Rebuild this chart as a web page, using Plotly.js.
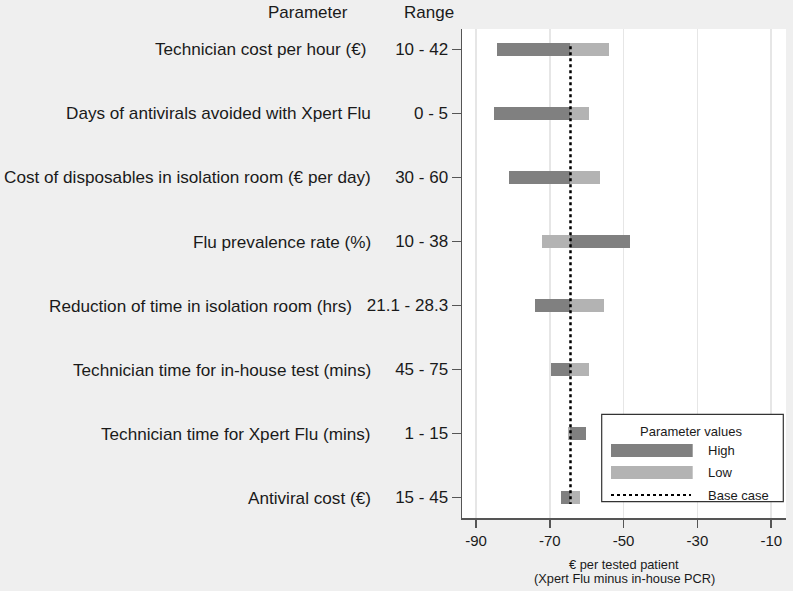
<!DOCTYPE html>
<html>
<head>
<meta charset="utf-8">
<script src="https://cdn.plot.ly/plotly-3.0.1.min.js"></script>
<style>html,body{margin:0;padding:0;background:#efefef;}</style>
</head>
<body>
<div id="chart" style="width:793px;height:591px;"></div>
<script>
// ---- data ----
const parameters = [
  "Technician cost per hour (€)",
  "Days of antivirals avoided with Xpert Flu",
  "Cost of disposables in isolation room (€ per day)",
  "Flu prevalence rate (%)",
  "Reduction of time in isolation room (hrs)",
  "Technician time for in-house test (mins)",
  "Technician time for Xpert Flu (mins)",
  "Antiviral cost (€)"
];
const ranges = ["10 - 42", "0 - 5", "30 - 60", "10 - 38", "21.1 - 28.3", "45 - 75", "1 - 15", "15 - 45"];
const highValues = [-84.4, -85.0, -81.2, -48.2, -73.9, -69.7, -60.2, -66.9];
const lowValues  = [-54.0, -59.5, -56.3, -72.2, -55.2, -59.3, -65.2, -61.8];
const baseCase = -64.4;
const xTicks = [-90, -70, -50, -30, -10];

// ---- layout helpers ----
const rows = parameters.map((_, i) => i + 1);
const FONT = "Liberation Sans, Arial, sans-serif";
const DARK = "#808080", LIGHT = "#b3b3b3";
// right edge (pixels) of each parameter name
const nameRight = [368, 372, 372, 372, 353, 372, 372, 372];

const traces = [
  {
    type: "bar", orientation: "h", y: rows,
    base: rows.map(() => baseCase),
    x: highValues.map(v => v - baseCase),
    width: 0.2, marker: {color: DARK, line: {width: 0}},
    showlegend: false, hoverinfo: "skip"
  },
  {
    type: "bar", orientation: "h", y: rows,
    base: rows.map(() => baseCase),
    x: lowValues.map(v => v - baseCase),
    width: 0.2, marker: {color: LIGHT, line: {width: 0}},
    showlegend: false, hoverinfo: "skip"
  },
  {
    type: "scatter", mode: "lines",
    x: [baseCase, baseCase], y: [0.95, rows.length + 0.1],
    line: {color: "#000", width: 2.5, dash: "dot"},
    showlegend: false, hoverinfo: "skip"
  }
];

// paper coordinate helpers (plot area: x 462..786, y 29..518)
const L = 462, R = 786, T = 29, B = 518;
const px = v => (v - L) / (R - L);
const py = v => (B - v) / (B - T);

const annotations = [];
parameters.forEach((p, i) => {
  annotations.push({
    xref: "paper", yref: "y", x: px(nameRight[i]), y: rows[i], xanchor: "right", yanchor: "middle",
    text: p, showarrow: false, borderpad: 0, font: {family: FONT, size: 17.15, color: "#1a1a1a"}
  });
});
annotations.push(
  {xref: "paper", yref: "paper", x: px(308), y: py(12), xanchor: "center", yanchor: "middle",
   text: "Parameter", showarrow: false, font: {family: FONT, size: 17, color: "#1a1a1a"}},
  {xref: "paper", yref: "paper", x: px(456), y: py(12), xanchor: "right", yanchor: "middle",
   text: "Range", showarrow: false, font: {family: FONT, size: 17, color: "#1a1a1a"}},
  {xref: "paper", yref: "paper", x: 0.5, y: py(564.5), xanchor: "center", yanchor: "middle",
   text: "€ per tested patient", showarrow: false, font: {family: FONT, size: 12.8, color: "#1a1a1a"}},
  {xref: "paper", yref: "paper", x: 0.5, y: py(578.5), xanchor: "center", yanchor: "middle",
   text: "(Xpert Flu minus in-house PCR)", showarrow: false, font: {family: FONT, size: 12.8, color: "#1a1a1a"}},
  // legend texts
  {xref: "paper", yref: "paper", x: px(690.5), y: py(431), xanchor: "center", yanchor: "middle",
   text: "Parameter values", showarrow: false, font: {family: FONT, size: 13, color: "#1a1a1a"}},
  {xref: "paper", yref: "paper", x: px(706), y: py(450.5), xanchor: "left", yanchor: "middle",
   text: "High", showarrow: false, font: {family: FONT, size: 13, color: "#1a1a1a"}},
  {xref: "paper", yref: "paper", x: px(706), y: py(472.5), xanchor: "left", yanchor: "middle",
   text: "Low", showarrow: false, font: {family: FONT, size: 13, color: "#1a1a1a"}},
  {xref: "paper", yref: "paper", x: px(706), y: py(495), xanchor: "left", yanchor: "middle",
   text: "Base case", showarrow: false, font: {family: FONT, size: 13, color: "#1a1a1a"}}
);

const shapes = [
  {type: "rect", xref: "paper", yref: "paper", x0: px(601.7), x1: px(783.3), y0: py(501.7), y1: py(414.3),
   fillcolor: "#ffffff", line: {color: "#333333", width: 1.2}, layer: "above"},
  {type: "rect", xref: "paper", yref: "paper", x0: px(611), x1: px(692.7), y0: py(457), y1: py(444),
   fillcolor: DARK, line: {width: 0}, layer: "above"},
  {type: "rect", xref: "paper", yref: "paper", x0: px(611), x1: px(692.7), y0: py(479), y1: py(466),
   fillcolor: LIGHT, line: {width: 0}, layer: "above"},
  {type: "line", xref: "paper", yref: "paper", x0: px(611), x1: px(691), y0: py(495), y1: py(495),
   line: {color: "#000", width: 2, dash: "dot"}, layer: "above"}
];

const layout = {
  width: 793, height: 591,
  margin: {l: L, r: 793 - R, t: T, b: 591 - B, pad: 0},
  paper_bgcolor: "#efefef", plot_bgcolor: "#ffffff",
  barmode: "overlay", bargap: 0,
  showlegend: false,
  font: {family: FONT, color: "#1a1a1a"},
  xaxis: {
    range: [-93.8, -6.0], tickvals: xTicks, ticktext: xTicks.map(String),
    showgrid: true, gridcolor: "#e6e6e6", gridwidth: 1.5, zeroline: false,
    showline: true, linecolor: "#555555", linewidth: 1.5,
    ticks: "outside", ticklen: 8, tickcolor: "#555555", tickwidth: 1.5,
    tickfont: {family: FONT, size: 15, color: "#1a1a1a"}
  },
  yaxis: {
    range: [rows.length + 0.32, 0.68],
    tickvals: rows, ticktext: ranges,
    showgrid: false, zeroline: false,
    showline: true, linecolor: "#555555", linewidth: 1.5,
    ticks: "outside", ticklen: 9, tickcolor: "#555555", tickwidth: 1.5,
    tickfont: {family: FONT, size: 17, color: "#1a1a1a"}
  },
  annotations: annotations,
  shapes: shapes
};

Plotly.newPlot("chart", traces, layout, {displayModeBar: false, staticPlot: true});
</script>
</body>
</html>
